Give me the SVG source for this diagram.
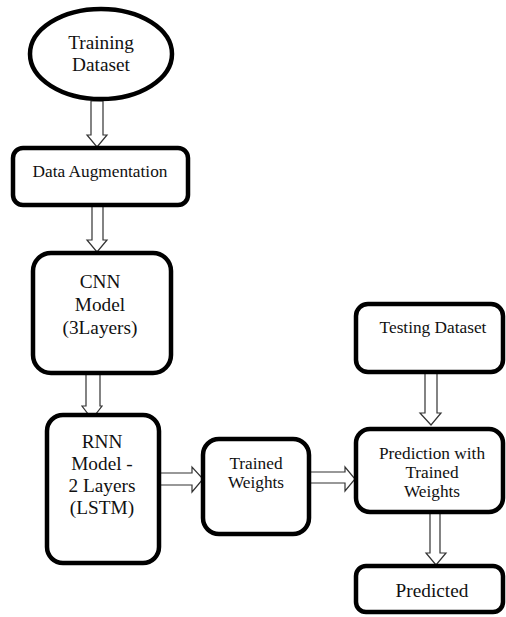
<svg xmlns="http://www.w3.org/2000/svg" width="506" height="617" viewBox="0 0 506 617">
<style>
.box{fill:#fff;stroke:#000;stroke-width:4.5}
.arr{fill:#fff;stroke:#333;stroke-width:1.2;stroke-linejoin:miter}
text{fill:#111;text-anchor:middle}
.t18{font-size:19.3px}
.t16{font-size:17.3px}
</style>
<rect width="506" height="617" fill="#fff"/>
<g id="connectors">
<polygon class="arr" points="91,101 103,101 103,135 107,135 97,147 87,135 91,135"/>
<polygon class="arr" points="92,206 103,206 103,240 107,240 97,252 87,240 92,240"/>
<polygon class="arr" points="86,374 100,374 100,406 102,406 92,419 82,406 86,406"/>
<polygon class="arr" points="160,473 192,473 192,467 203,479 192,492 192,485 160,485"/>
<polygon class="arr" points="310,472 345,472 345,467 355,479 345,491 345,483 310,483"/>
<polygon class="arr" points="425,373 437,373 437,413 441,413 431,425 420,413 425,413"/>
<polygon class="arr" points="430,513 440,513 440,553 446,553 436,565 426,553 430,553"/>
</g>
<g font-family="'Liberation Serif', 'Times New Roman', Times, serif">
<g id="training-dataset">
<ellipse class="box" cx="101" cy="54" rx="71" ry="45"/>
<text class="t18" x="101" y="49">Training</text>
<text class="t18" x="101" y="71">Dataset</text>
</g>
<g id="data-augmentation">
<rect class="box" x="13" y="148" width="175" height="57" rx="10"/>
<text class="t16" x="100" y="177">Data Augmentation</text>
</g>
<g id="cnn-model">
<rect class="box" x="33" y="253" width="138" height="120" rx="18"/>
<text class="t18" x="100" y="288">CNN</text>
<text class="t18" x="100" y="311">Model</text>
<text class="t18" x="100" y="334">(3Layers)</text>
</g>
<g id="rnn-model">
<rect class="box" x="47" y="415" width="112" height="148" rx="16"/>
<text class="t18" x="102" y="448">RNN</text>
<text class="t18" x="102" y="470">Model -</text>
<text class="t18" x="102" y="492">2 Layers</text>
<text class="t18" x="102" y="514">(LSTM)</text>
</g>
<g id="trained-weights">
<rect class="box" x="203" y="439" width="106" height="95" rx="16"/>
<text class="t16" x="256" y="469">Trained</text>
<text class="t16" x="256" y="488">Weights</text>
</g>
<g id="testing-dataset">
<rect class="box" x="356" y="304" width="147" height="68" rx="12"/>
<text class="t16" x="433" y="333">Testing Dataset</text>
</g>
<g id="prediction">
<rect class="box" x="356" y="429" width="147" height="83" rx="14"/>
<text class="t16" x="432" y="459">Prediction with</text>
<text class="t16" x="432" y="478">Trained</text>
<text class="t16" x="432" y="497">Weights</text>
</g>
<g id="predicted">
<rect class="box" x="356" y="566" width="147" height="46" rx="10"/>
<text class="t18" x="432" y="597">Predicted</text>
</g>
</g>
</svg>
